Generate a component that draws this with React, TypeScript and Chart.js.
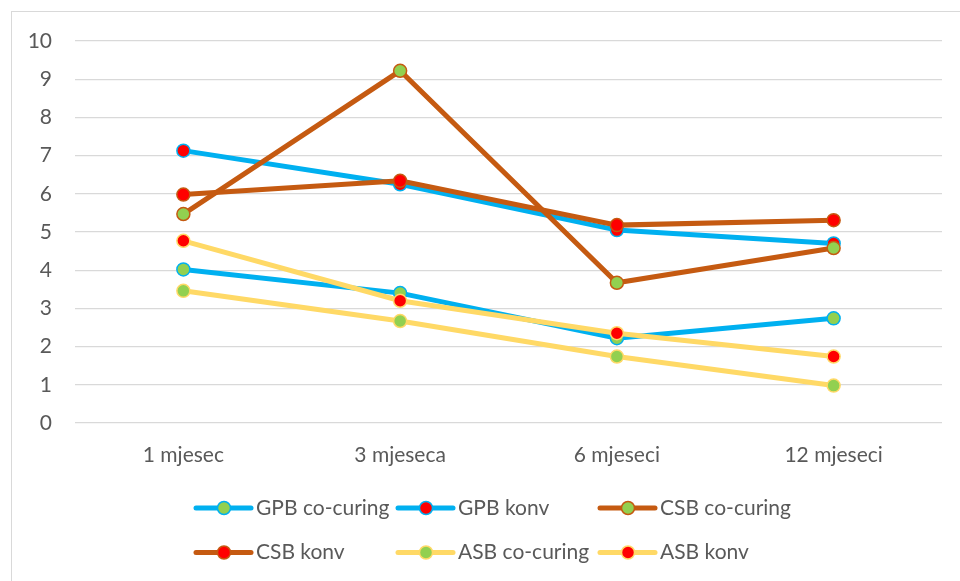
import React, { useEffect, useRef } from "react";
import { Chart, registerables } from "chart.js";

Chart.register(...registerables);

const categories = ["1 mjesec", "3 mjeseca", "6 mjeseci", "12 mjeseci"];
const yTicks = [0, 1, 2, 3, 4, 5, 6, 7, 8, 9, 10];

const gpbCoCuring = [4.02, 3.4, 2.22, 2.74];
const gpbKonv = [7.13, 6.25, 5.05, 4.7];
const csbCoCuring = [5.47, 9.22, 3.67, 4.58];
const csbKonv = [5.98, 6.34, 5.18, 5.31];
const asbCoCuring = [3.46, 2.67, 1.74, 0.98];
const asbKonv = [4.77, 3.2, 2.35, 1.74];

const seriesNames = ["GPB co-curing", "GPB konv", "CSB co-curing", "CSB konv", "ASB co-curing", "ASB konv"];
const seriesValues = [gpbCoCuring, gpbKonv, csbCoCuring, csbKonv, asbCoCuring, asbKonv];

const BLUE = "#00B0F0";
const ORANGE = "#C55A11";
const YELLOW = "#FFD966";
const GREEN = "#92D050";
const RED = "#FF0000";
const lineColors = [BLUE, BLUE, ORANGE, ORANGE, YELLOW, YELLOW];
const markerColors = [GREEN, RED, GREEN, RED, GREEN, RED];

const FONT = "Lato, 'Open Sans', sans-serif";
const TEXT = "#595959";

const legendPlugin = {
  id: "gridLegend",
  afterDraw(chart: any) {
    const ctx = chart.ctx;
    ctx.save();
    chart.data.datasets.forEach((ds: any, i: number) => {
      const col = i % 3;
      const row = Math.floor(i / 3);
      const x0 = 196 + col * 202;
      const y = 508 + row * 44.5;
      ctx.strokeStyle = ds.borderColor;
      ctx.lineWidth = 5;
      ctx.lineCap = "round";
      ctx.beginPath();
      ctx.moveTo(x0, y);
      ctx.lineTo(x0 + 55, y);
      ctx.stroke();
      ctx.beginPath();
      ctx.arc(x0 + 28, y, 6.5, 0, Math.PI * 2);
      ctx.fillStyle = ds.pointBackgroundColor;
      ctx.fill();
      ctx.lineWidth = 1.5;
      ctx.strokeStyle = ds.pointBorderColor;
      ctx.stroke();
      ctx.fillStyle = TEXT;
      ctx.font = `21px ${FONT}`;
      ctx.textBaseline = "middle";
      ctx.textAlign = "left";
      ctx.fillText(ds.label, x0 + 60, y);
    });
    ctx.restore();
  },
};

export default function App() {
  const ref = useRef<HTMLCanvasElement | null>(null);
  useEffect(() => {
    if (!ref.current) return;
    const chart = new Chart(ref.current, {
      type: "line",
      data: {
        labels: categories,
        datasets: seriesValues.map((vals, i) => ({
          label: seriesNames[i],
          data: vals,
          borderColor: lineColors[i],
          backgroundColor: lineColors[i],
          borderWidth: 5,
          pointRadius: 6.5,
          pointBorderWidth: 1.5,
          pointBackgroundColor: markerColors[i],
          pointBorderColor: lineColors[i],
          tension: 0,
          fill: false,
          order: seriesValues.length - i,
        })),
      },
      options: {
        animation: false,
        responsive: false,
        maintainAspectRatio: false,
        layout: { padding: { left: 0, right: 18, top: 41, bottom: 0 } },
        plugins: { legend: { display: false }, tooltip: { enabled: false } },
        scales: {
          x: {
            offset: true,
            grid: { display: false, drawTicks: false },
            border: { display: false },
            ticks: { color: TEXT, font: { family: FONT, size: 21 }, padding: 20 },
            afterFit: (s: any) => {
              s.height = 158;
            },
          },
          y: {
            min: 0,
            max: 10,
            afterBuildTicks: (s: any) => {
              s.ticks = yTicks.map((v) => ({ value: v }));
            },
            grid: { color: "#d9d9d9", lineWidth: 1.3, drawTicks: false },
            border: { display: false },
            ticks: { color: TEXT, font: { family: FONT, size: 21 }, padding: 23 },
            afterFit: (s: any) => {
              s.width = 75;
            },
          },
        },
      },
      plugins: [legendPlugin],
    });
    return () => chart.destroy();
  }, []);
  return (
    <div>
      <div
        style={{
          position: "fixed",
          left: 11,
          top: 11,
          width: 980,
          height: 600,
          border: "1px solid #d9d9d9",
          boxSizing: "border-box",
        }}
      />
      <canvas
        ref={ref}
        width={960}
        height={581}
        style={{ position: "fixed", left: 0, top: 0, width: 960, height: 581 }}
      />
    </div>
  );
}
